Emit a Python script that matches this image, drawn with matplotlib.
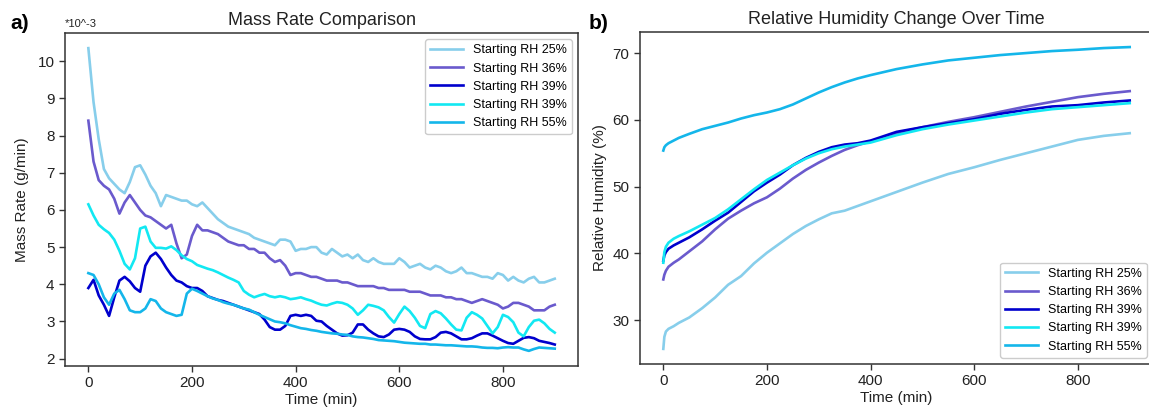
import numpy as np
import matplotlib
matplotlib.use("Agg")
import matplotlib.pyplot as plt

plt.rcParams['font.family'] = ['Liberation Sans', 'DejaVu Sans']

labels = ["Starting RH 25%", "Starting RH 36%", "Starting RH 39%",
          "Starting RH 39%", "Starting RH 55%"]
colors = ["#87CEEB", "#6A5ACD", "#0000CD", "#12E8F2", "#14B6EA"]

# ---- a) mass rate, *10^-3 g/min, every 10 min
t_mass = np.arange(0, 901, 10)

mass_25 = [10.35, 8.9, 7.9, 7.1, 6.85, 6.7, 6.55, 6.45, 6.75, 7.15,
           7.2, 6.95, 6.65, 6.45, 6.1, 6.4, 6.35, 6.3, 6.25, 6.25,
           6.15, 6.1, 6.2, 6.05, 5.9, 5.75, 5.65, 5.55, 5.5, 5.45,
           5.4, 5.35, 5.25, 5.2, 5.15, 5.1, 5.05, 5.2, 5.2, 5.15,
           4.9, 4.95, 4.95, 5.0, 5.0, 4.85, 4.8, 4.95, 4.85, 4.75,
           4.8, 4.7, 4.8, 4.65, 4.6, 4.7, 4.6, 4.55, 4.55, 4.55,
           4.7, 4.6, 4.45, 4.5, 4.55, 4.45, 4.4, 4.5, 4.45, 4.35,
           4.3, 4.35, 4.45, 4.3, 4.3, 4.25, 4.2, 4.2, 4.15, 4.3,
           4.25, 4.1, 4.2, 4.1, 4.05, 4.15, 4.2, 4.05, 4.05, 4.1,
           4.15]
mass_36 = [8.4, 7.3, 6.8, 6.65, 6.55, 6.3, 5.9, 6.2, 6.4, 6.2,
           6.0, 5.85, 5.8, 5.7, 5.6, 5.5, 5.6, 5.1, 4.7, 4.8,
           5.3, 5.6, 5.45, 5.45, 5.4, 5.35, 5.25, 5.15, 5.1, 5.05,
           5.05, 4.95, 4.95, 4.85, 4.85, 4.7, 4.6, 4.65, 4.5, 4.25,
           4.3, 4.3, 4.25, 4.2, 4.2, 4.15, 4.1, 4.1, 4.1, 4.05,
           4.05, 4.0, 3.95, 3.95, 3.95, 3.95, 3.9, 3.9, 3.85, 3.85,
           3.85, 3.85, 3.8, 3.8, 3.8, 3.75, 3.7, 3.7, 3.7, 3.65,
           3.65, 3.6, 3.6, 3.55, 3.5, 3.55, 3.6, 3.55, 3.5, 3.45,
           3.35, 3.4, 3.5, 3.5, 3.45, 3.4, 3.3, 3.3, 3.3, 3.4,
           3.45]
mass_39a = [3.9, 4.12, 3.7, 3.45, 3.15, 3.65, 4.1, 4.2, 4.08, 3.9,
            3.8, 4.5, 4.75, 4.85, 4.68, 4.45, 4.25, 4.1, 4.05, 3.95,
            3.9, 3.9, 3.82, 3.68, 3.63, 3.58, 3.55, 3.5, 3.45, 3.4,
            3.35, 3.3, 3.25, 3.2, 3.05, 2.85, 2.78, 2.78, 2.88, 3.15,
            3.18, 3.15, 3.18, 3.15, 3.02, 3.0, 2.88, 2.78, 2.68, 2.62,
            2.63, 2.7, 2.92, 2.92, 2.78, 2.68, 2.6, 2.58, 2.65, 2.78,
            2.8, 2.78, 2.72, 2.6, 2.53, 2.52, 2.52, 2.58, 2.7, 2.72,
            2.68, 2.6, 2.52, 2.52, 2.55, 2.62, 2.68, 2.68, 2.62, 2.55,
            2.48, 2.42, 2.4, 2.48, 2.56, 2.58, 2.55, 2.48, 2.45, 2.42,
            2.38]
mass_39b = [6.15, 5.85, 5.6, 5.48, 5.38, 5.2, 4.9, 4.55, 4.4, 4.7,
            5.5, 5.55, 5.15, 4.98, 4.98, 4.96, 5.02, 4.92, 4.78, 4.68,
            4.62, 4.52, 4.47, 4.42, 4.38, 4.32, 4.25, 4.18, 4.12, 4.05,
            3.82, 3.72, 3.65, 3.7, 3.74, 3.68, 3.65, 3.68, 3.65, 3.6,
            3.62, 3.65, 3.6, 3.56, 3.5, 3.45, 3.43, 3.48, 3.52, 3.5,
            3.45, 3.35, 3.18, 3.3, 3.45, 3.42, 3.38, 3.3, 3.12, 2.97,
            3.2, 3.4, 3.28, 3.1, 2.88, 2.82, 3.2, 3.28, 3.22, 3.08,
            2.92, 2.78, 2.76, 3.1, 3.25, 3.18, 3.08, 2.88, 2.68, 2.85,
            3.18, 3.12, 2.98, 2.7, 2.6, 2.85, 3.02, 3.05, 2.95, 2.8,
            2.7]
mass_55 = [4.3, 4.25, 4.0, 3.65, 3.45, 3.75, 3.85, 3.6, 3.3, 3.25,
           3.25, 3.35, 3.6, 3.55, 3.35, 3.25, 3.2, 3.15, 3.18, 3.75,
           3.88, 3.82, 3.75, 3.68, 3.62, 3.58, 3.52, 3.48, 3.45, 3.4,
           3.35, 3.32, 3.25, 3.18, 3.12, 3.06, 3.0, 2.98, 2.95, 2.9,
           2.86, 2.82, 2.8, 2.77, 2.75, 2.72, 2.7, 2.68, 2.67, 2.65,
           2.64, 2.6, 2.58, 2.57, 2.55, 2.53, 2.5, 2.49, 2.48, 2.47,
           2.45, 2.43, 2.42, 2.41, 2.4, 2.4, 2.38, 2.38, 2.37, 2.36,
           2.36, 2.35, 2.34, 2.33, 2.33, 2.32, 2.3, 2.29, 2.29, 2.28,
           2.3, 2.31, 2.3, 2.3, 2.25, 2.21, 2.26, 2.3, 2.29, 2.28,
           2.27]

# ---- b) relative humidity, %
t_rh = [0, 2, 5, 10, 20, 30, 50, 75, 100, 125, 150, 175, 200, 225, 250,
        275, 300, 325, 350, 375, 400, 450, 500, 550, 600, 650, 700, 750,
        800, 850, 900]

rh_25 = [25.7, 27.5, 28.3, 28.7, 29.1, 29.6, 30.4, 31.8, 33.4, 35.3,
         36.6, 38.5, 40.1, 41.5, 42.9, 44.1, 45.1, 46.0, 46.4, 47.1,
         47.8, 49.2, 50.6, 51.9, 52.9, 54.0, 55.0, 56.0, 57.0, 57.6,
         58.0]
rh_36 = [36.1, 36.8, 37.4, 38.0, 38.6, 39.1, 40.3, 41.8, 43.6, 45.2,
         46.4, 47.5, 48.4, 49.7, 51.2, 52.5, 53.6, 54.6, 55.5, 56.2,
         56.8, 58.0, 58.9, 59.7, 60.4, 61.2, 62.0, 62.7, 63.4, 63.9,
         64.3]
rh_39a = [38.9, 39.7, 40.2, 40.7, 41.2, 41.6, 42.4, 43.6, 44.9, 46.1,
          47.7, 49.3, 50.6, 51.8, 53.2, 54.3, 55.2, 55.9, 56.3, 56.5,
          56.9, 58.2, 58.9, 59.5, 60.1, 60.9, 61.5, 62.0, 62.2, 62.6,
          62.9]
rh_39b = [38.6, 40.2, 41.0, 41.6, 42.2, 42.6, 43.3, 44.3, 45.3, 46.6,
          48.1, 49.6, 51.0, 52.1, 53.2, 54.2, 55.0, 55.6, 56.0, 56.3,
          56.6, 57.7, 58.6, 59.3, 59.9, 60.5, 61.1, 61.6, 61.9, 62.2,
          62.5]
rh_55 = [55.4, 55.9, 56.2, 56.5, 56.9, 57.3, 57.9, 58.6, 59.1, 59.6,
         60.2, 60.7, 61.1, 61.6, 62.3, 63.2, 64.1, 64.9, 65.6, 66.2,
         66.7, 67.6, 68.3, 68.9, 69.3, 69.7, 70.0, 70.3, 70.5, 70.75,
         70.9]

mass_all = [mass_25, mass_36, mass_39a, mass_39b, mass_55]
rh_all = [rh_25, rh_36, rh_39a, rh_39b, rh_55]

fig = plt.figure(figsize=(11.49, 4.11), dpi=100)
ax1 = fig.add_axes([0.0566, 0.1095, 0.4465, 0.8102])
ax2 = fig.add_axes([0.557, 0.1144, 0.4465, 0.8078])

for y, c, lab in zip(mass_all, colors, labels):
    ax1.plot(t_mass, y, color=c, lw=1.9, label=lab)
for y, c, lab in zip(rh_all, colors, labels):
    ax2.plot(t_rh, y, color=c, lw=1.9, label=lab)

for ax in (ax1, ax2):
    for s in ax.spines.values():
        s.set_color("#333333")
        s.set_linewidth(1.1)
    ax.tick_params(direction="out", length=4, width=1, colors="#333333",
                   labelcolor="#222222", labelsize=11)
    ax.set_xlabel("Time (min)", fontsize=11, color="#222222", labelpad=2)
    ax.set_xticks([0, 200, 400, 600, 800])

ax1.set_yticks([2, 3, 4, 5, 6, 7, 8, 9, 10])
ax1.set_ylabel("Mass Rate (g/min)", fontsize=11, color="#222222", labelpad=6)
ax1.set_title("Mass Rate Comparison", fontsize=13, color="#222222", pad=6)
ax1.legend(loc="upper right", fontsize=9, handlelength=2.6,
           edgecolor="#cccccc", framealpha=1)
ax1.text(0.0, 1.012, "*10^-3", transform=ax1.transAxes, fontsize=8,
         ha="left", va="bottom", color="#222222")

ax2.set_yticks([30, 40, 50, 60, 70])
ax2.set_ylabel("Relative Humidity (%)", fontsize=11, color="#222222")
ax2.set_title("Relative Humidity Change Over Time", fontsize=13,
              color="#222222", pad=6)
ax2.legend(loc="lower right", fontsize=9, handlelength=2.6,
           edgecolor="#cccccc", framealpha=1)

fig.text(0.009, 0.93, "a)", fontsize=15, fontweight="bold")
fig.text(0.512, 0.93, "b)", fontsize=15, fontweight="bold")

fig.savefig("out.png", dpi=100)
